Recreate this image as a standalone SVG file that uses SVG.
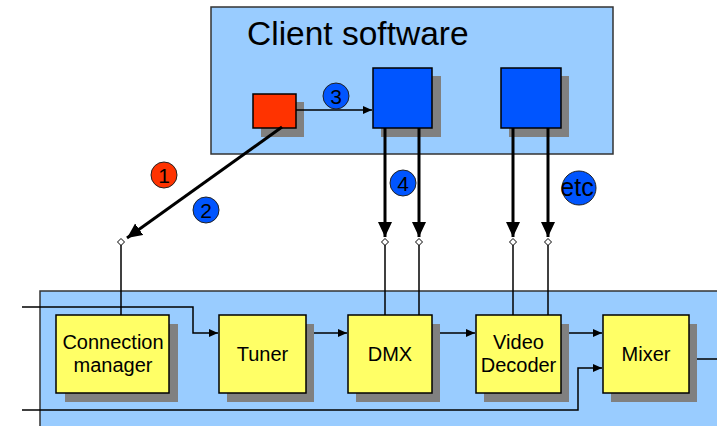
<svg xmlns="http://www.w3.org/2000/svg" width="717" height="426" viewBox="0 0 717 426">
  <style>
    .panel { fill: #99ccff; stroke: #333; stroke-width: 1.5; }
    .shadow { fill: #808080; }
    .block { fill: #ffff66; stroke: #000; stroke-width: 1.5; }
    .comp { fill: #0055ff; stroke: #000; stroke-width: 1.5; }
    .src { fill: #ff3300; stroke: #000; stroke-width: 1.5; }
    .label { font-family: "Liberation Sans", Arial, sans-serif; font-size: 20px; fill: #000; text-anchor: middle; }
    .title { font-family: "Liberation Sans", Arial, sans-serif; font-size: 33.5px; fill: #000; }
    .step { stroke: #222; stroke-width: 1; }
    .stepb { fill: #0055ff; }
    .stepr { fill: #ff3300; }
    .steptxt { font-family: "Liberation Sans", Arial, sans-serif; font-size: 21px; fill: #000; text-anchor: middle; }
    .thin { fill: none; stroke: #000; stroke-width: 1.5; }
    .thick { fill: none; stroke: #000; stroke-width: 3; }
    .port { fill: #fff; stroke: #000; stroke-width: 1; }
  </style>
  <defs>
    <marker id="ah" markerUnits="userSpaceOnUse" markerWidth="10" markerHeight="10" refX="9" refY="5" orient="auto">
      <path d="M0,1 L9,5 L0,9 Z" fill="#000"/>
    </marker>
    <marker id="ahb" markerUnits="userSpaceOnUse" markerWidth="16" markerHeight="16" refX="15" refY="7" orient="auto">
      <path d="M0,0 L15,7 L0,14 Z" fill="#000"/>
    </marker>
  </defs>

  <!-- client software panel -->
  <g id="client-software">
    <rect class="panel" x="211" y="7" width="402" height="147"/>
    <text class="title" x="247" y="45">Client software</text>
  </g>

  <!-- host panel (runs off the edges) -->
  <g id="host">
    <rect class="panel" x="40" y="291" width="700" height="150"/>
  </g>

  <!-- client components -->
  <g id="app">
    <rect class="shadow" x="261" y="102" width="43" height="35"/>
    <rect class="src" x="253" y="94" width="43" height="34"/>
  </g>
  <g id="comp-a">
    <rect class="shadow" x="381" y="76" width="60" height="61"/>
    <rect class="comp" x="373" y="68" width="59" height="60"/>
  </g>
  <g id="comp-b">
    <rect class="shadow" x="509" y="76" width="60" height="61"/>
    <rect class="comp" x="501" y="68" width="60" height="60"/>
  </g>

  <!-- connectors -->
  <g id="connectors">
    <!-- client side -->
    <line class="thin" x1="296" y1="110" x2="372" y2="110" marker-end="url(#ah)"/>
    <line class="thick" x1="282" y1="127" x2="127" y2="238" marker-end="url(#ahb)"/>
    <line class="thick" x1="385" y1="128" x2="385" y2="237" marker-end="url(#ahb)"/>
    <line class="thick" x1="419" y1="128" x2="419" y2="237" marker-end="url(#ahb)"/>
    <line class="thick" x1="513" y1="128" x2="513" y2="237" marker-end="url(#ahb)"/>
    <line class="thick" x1="548" y1="128" x2="548" y2="237" marker-end="url(#ahb)"/>

    <!-- port stubs into the host blocks -->
    <line class="thin" x1="121" y1="242" x2="121" y2="315"/>
    <line class="thin" x1="385" y1="242" x2="385" y2="315"/>
    <line class="thin" x1="419" y1="242" x2="419" y2="315"/>
    <line class="thin" x1="513" y1="242" x2="513" y2="315"/>
    <line class="thin" x1="548" y1="242" x2="548" y2="315"/>

    <!-- data path -->
    <polyline class="thin" points="22,307 193,307 193,333 218,333" marker-end="url(#ah)"/>
    <line class="thin" x1="306" y1="333" x2="347" y2="333" marker-end="url(#ah)"/>
    <line class="thin" x1="432" y1="333" x2="475" y2="333" marker-end="url(#ah)"/>
    <line class="thin" x1="561" y1="333" x2="602" y2="333" marker-end="url(#ah)"/>
    <polyline class="thin" points="22,410 578,410 578,368 602,368" marker-end="url(#ah)"/>
    <line class="thin" x1="689" y1="359" x2="717" y2="359"/>

    <!-- ports -->
    <path class="port" d="M121,238.5 L124.5,242 L121,245.5 L117.5,242 Z"/>
    <path class="port" d="M385,238.5 L388.5,242 L385,245.5 L381.5,242 Z"/>
    <path class="port" d="M419,238.5 L422.5,242 L419,245.5 L415.5,242 Z"/>
    <path class="port" d="M513,238.5 L516.5,242 L513,245.5 L509.5,242 Z"/>
    <path class="port" d="M548,238.5 L551.5,242 L548,245.5 L544.5,242 Z"/>
  </g>

  <!-- host blocks -->
  <g id="connection-manager">
    <rect class="shadow" x="65" y="324" width="113" height="78"/>
    <rect class="block" x="56" y="315" width="113" height="78"/>
    <text class="label" x="113" y="349">Connection</text>
    <text class="label" x="113" y="372">manager</text>
  </g>
  <g id="tuner">
    <rect class="shadow" x="227" y="324" width="87" height="78"/>
    <rect class="block" x="219" y="315" width="87" height="78"/>
    <text class="label" x="262.5" y="361">Tuner</text>
  </g>
  <g id="dmx">
    <rect class="shadow" x="356" y="324" width="84" height="78"/>
    <rect class="block" x="348" y="315" width="84" height="78"/>
    <text class="label" x="390" y="361">DMX</text>
  </g>
  <g id="video-decoder">
    <rect class="shadow" x="484" y="324" width="85" height="78"/>
    <rect class="block" x="476" y="315" width="85" height="78"/>
    <text class="label" x="518.5" y="349">Video</text>
    <text class="label" x="518.5" y="372">Decoder</text>
  </g>
  <g id="mixer">
    <rect class="shadow" x="611" y="324" width="86" height="78"/>
    <rect class="block" x="603" y="315" width="86" height="78"/>
    <text class="label" x="646" y="361">Mixer</text>
  </g>

  <!-- step markers -->
  <g id="step-1">
    <circle class="step stepr" cx="164" cy="175" r="13"/>
    <text class="steptxt" x="164" y="182.5">1</text>
  </g>
  <g id="step-2">
    <circle class="step stepb" cx="206" cy="210" r="13"/>
    <text class="steptxt" x="206" y="217.5">2</text>
  </g>
  <g id="step-3">
    <circle class="step stepb" cx="336" cy="96" r="13"/>
    <text class="steptxt" x="336" y="103.5">3</text>
  </g>
  <g id="step-4">
    <circle class="step stepb" cx="403" cy="183" r="13"/>
    <text class="steptxt" x="403" y="190.5">4</text>
  </g>
  <g id="step-etc">
    <circle class="step stepb" cx="579" cy="188" r="17"/>
    <text class="steptxt" x="577" y="196" style="font-size:25px">etc</text>
  </g>
</svg>
